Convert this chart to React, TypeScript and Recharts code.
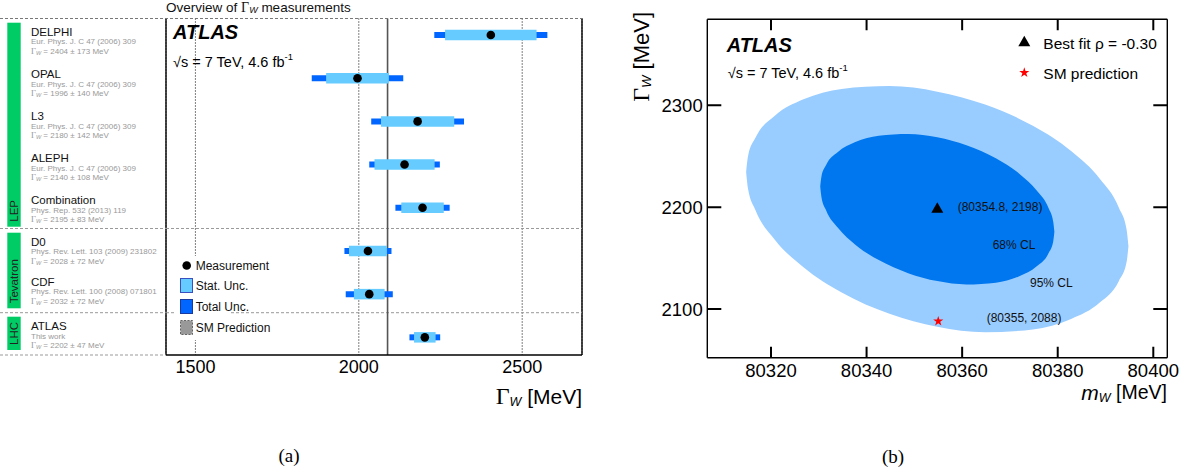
import React from 'react';
import {
  ComposedChart,
  Scatter,
  ErrorBar,
  XAxis,
  YAxis,
  ReferenceLine,
  CartesianGrid,
  Area,
  Symbols,
} from 'recharts';

const SANS = '"Liberation Sans", Arial, Helvetica, sans-serif';
const SERIF = '"Liberation Serif", "Times New Roman", serif';

// ---- (a) overview of Gamma_W measurements ----
const experiments = ['DELPHI', 'OPAL', 'L3', 'ALEPH', 'Combination', 'D0', 'CDF', 'ATLAS'];
const references = [
  'Eur. Phys. J. C 47 (2006) 309',
  'Eur. Phys. J. C 47 (2006) 309',
  'Eur. Phys. J. C 47 (2006) 309',
  'Eur. Phys. J. C 47 (2006) 309',
  'Phys. Rep. 532 (2013) 119',
  'Phys. Rev. Lett. 103 (2009) 231802',
  'Phys. Rev. Lett. 100 (2008) 071801',
  'This work',
];
const widthValues = [2404, 1996, 2180, 2140, 2195, 2028, 2032, 2202];
const totalErrors = [173, 140, 142, 108, 83, 72, 72, 47];
const statErrors = [140, 96, 112, 92, 65, 58, 47, 33];
const smWidth = 2088;
const widthTicks = [1500, 2000, 2500];
const groupNames = ['LEP', 'Tevatron', 'LHC'];

// ---- (b) m_W vs Gamma_W ----
const bestFit = { m: 80354.8, g: 2198 };
const smPrediction = { m: 80355, g: 2088 };
const massTicks = [80320, 80340, 80360, 80380, 80400];
const gammaTicks = [2100, 2200, 2300];

// contour edges: mass, lower edge, upper edge
const c95Mass = [80314.8, 80315.2, 80316.8, 80320.8, 80326.8, 80334.8, 80344.8, 80354.8, 80364.8, 80374.8, 80382.8, 80388.8, 80392.8, 80394.4, 80394.8];
const c95Low = [2234.3, 2217.7, 2196.5, 2168.1, 2141.0, 2116.2, 2095.3, 2082.6, 2077.2, 2079.9, 2090.2, 2106.3, 2127.5, 2145.8, 2161.7];
const c95High = [2234.3, 2250.2, 2268.5, 2289.7, 2305.8, 2316.1, 2318.8, 2313.4, 2300.7, 2279.8, 2255.0, 2227.9, 2199.5, 2178.3, 2161.7];

const c68Mass = [80330.3, 80330.55, 80331.5, 80334.0, 80337.65, 80342.55, 80348.7, 80354.8, 80360.9, 80367.05, 80371.95, 80375.6, 80378.1, 80379.05, 80379.3];
const c68Low = [2220.2, 2210.0, 2197.1, 2179.7, 2163.1, 2148.0, 2135.2, 2127.4, 2124.1, 2125.8, 2132.1, 2141.9, 2154.9, 2166.1, 2175.8];
const c68High = [2220.2, 2229.9, 2241.1, 2254.1, 2263.9, 2270.2, 2271.9, 2268.6, 2260.8, 2248.0, 2232.9, 2216.3, 2198.9, 2186.0, 2175.8];

const ROW_DOMAIN = [-0.382, 7.409];
const WIDTH_DOMAIN = [1410, 2683];
const MASS_DOMAIN = [80306.67, 80402.93];
const GAMMA_DOMAIN = [2052.2, 2384.4];

function OverviewChart() {
  const rows = experiments.map((name, i) => ({
    name,
    row: i,
    value: widthValues[i],
    total: totalErrors[i],
    stat: statErrors[i],
  }));

  return (
    <ComposedChart width={600} height={420} margin={{ top: 18.5, right: 18, bottom: 35, left: 165 }}>
      <CartesianGrid horizontal={false} stroke="#000" strokeDasharray="1 2" />
      <XAxis
        type="number"
        dataKey="value"
        domain={WIDTH_DOMAIN}
        allowDataOverflow
        ticks={widthTicks}
        interval={0}
        height={30}
        tickLine={false}
        tickSize={0}
        tickMargin={5.5}
        axisLine={{ stroke: '#000', strokeWidth: 1.6 }}
        tick={{ fontSize: 18, fill: '#000' }}
      />
      <YAxis
        type="number"
        dataKey="row"
        domain={ROW_DOMAIN}
        allowDataOverflow
        reversed
        width={1}
        tick={false}
        tickLine={false}
        axisLine={false}
      />
      <ReferenceLine x={WIDTH_DOMAIN[0]} stroke="#000" strokeWidth={1.4} ifOverflow="visible" />
      <ReferenceLine x={WIDTH_DOMAIN[1]} stroke="#000" strokeWidth={1.4} ifOverflow="visible" />
      <ReferenceLine y={4.48} stroke="#999" strokeDasharray="3 2" />
      <ReferenceLine y={6.43} stroke="#999" strokeDasharray="3 2" />
      <ReferenceLine x={smWidth} stroke="#555" strokeWidth={1.6} />
      <Scatter
        data={rows}
        isAnimationActive={false}
        shape={(p: any) => <circle cx={p.cx} cy={p.cy} r={4.3} fill="#000" />}
      >
        <ErrorBar dataKey="total" direction="x" width={0} stroke="#0066ff" strokeWidth={6} isAnimationActive={false} />
        <ErrorBar dataKey="stat" direction="x" width={0} stroke="#66ccff" strokeWidth={10.5} isAnimationActive={false} />
      </Scatter>
    </ComposedChart>
  );
}

// inward tick stubs (ROOT style), placed on the frame through the chart scales
const stub = (dx: number, dy: number) => (p: any) => (
  <line x1={p.cx} y1={p.cy} x2={p.cx + dx} y2={p.cy + dy} stroke="#000" strokeWidth={2} />
);

function ContourChart() {
  const outer = c95Mass.map((m, i) => ({ m, range: [c95Low[i], c95High[i]] }));
  const inner = c68Mass.map((m, i) => ({ m, range: [c68Low[i], c68High[i]] }));
  const bottomTicks = massTicks.map(m => ({ m, g: GAMMA_DOMAIN[0] }));
  const topTicks = massTicks.map(m => ({ m, g: GAMMA_DOMAIN[1] }));
  const leftTicks = gammaTicks.map(g => ({ m: MASS_DOMAIN[0], g }));
  const rightTicks = gammaTicks.map(g => ({ m: MASS_DOMAIN[1], g }));
  const line = { stroke: '#000', strokeWidth: 1.4 };

  return (
    <ComposedChart width={555} height={420} margin={{ top: 18.3, right: 26.7, bottom: 32.3, left: 17.3 }}>
      <XAxis
        type="number"
        dataKey="m"
        domain={MASS_DOMAIN}
        allowDataOverflow
        ticks={massTicks}
        interval={0}
        height={30}
        tickLine={false}
        tickSize={0}
        tickMargin={5.8}
        axisLine={line}
        tick={{ fontSize: 18.5, fill: '#000' }}
      />
      <XAxis
        xAxisId="top"
        orientation="top"
        type="number"
        domain={MASS_DOMAIN}
        allowDataOverflow
        height={1}
        tick={false}
        tickLine={false}
        axisLine={line}
      />
      <YAxis
        type="number"
        dataKey="g"
        domain={GAMMA_DOMAIN}
        allowDataOverflow
        ticks={gammaTicks}
        interval={0}
        width={50}
        tickLine={false}
        tickSize={0}
        tickMargin={4.6}
        axisLine={line}
        tick={{ fontSize: 18.5, fill: '#000' }}
      />
      <YAxis
        yAxisId="right"
        orientation="right"
        type="number"
        domain={GAMMA_DOMAIN}
        allowDataOverflow
        width={1}
        tick={false}
        tickLine={false}
        axisLine={line}
      />
      <Area data={outer} dataKey="range" type="monotone" stroke="none" fill="#99ccff" fillOpacity={1} isAnimationActive={false} />
      <Area data={inner} dataKey="range" type="monotone" stroke="none" fill="#0077ee" fillOpacity={1} isAnimationActive={false} />
      <Scatter data={bottomTicks} isAnimationActive={false} shape={stub(0, -11)} />
      <Scatter data={topTicks} isAnimationActive={false} shape={stub(0, 11)} />
      <Scatter data={leftTicks} isAnimationActive={false} shape={stub(14, 0)} />
      <Scatter data={rightTicks} isAnimationActive={false} shape={stub(-14, 0)} />
      <Scatter
        data={[bestFit]}
        isAnimationActive={false}
        shape={(p: any) => <Symbols cx={p.cx} cy={p.cy} type="triangle" size={62} fill="#000" />}
      />
      <Scatter
        data={[smPrediction]}
        isAnimationActive={false}
        shape={(p: any) => <Symbols cx={p.cx} cy={p.cy} type="star" size={32} fill="#ff0000" />}
      />
    </ComposedChart>
  );
}

function GammaW({ size, sub, shift }: { size: number; sub: number; shift: number }) {
  return (
    <>
      <tspan fontFamily={SERIF} fontSize={size}>Γ</tspan>
      <tspan fontSize={sub} fontStyle="italic" dy={shift}>W</tspan>
    </>
  );
}

function Overlay() {
  const nameY = [31.7, 74, 116, 158.3, 200, 241.7, 281.7, 326];
  const groupTop = [22.7, 232.7, 316.7];
  const groupBottom = [226.7, 308.3, 350];
  const sepY = [228.5, 312.7, 355];

  return (
    <svg
      width={1195}
      height={476}
      style={{ position: 'absolute', left: 0, top: 0, pointerEvents: 'none' }}
      fontFamily={SANS}
    >
      {/* (a) label column */}
      <line x1={0} x2={582} y1={18.5} y2={18.5} stroke="#777" strokeDasharray="3 2" />
      {sepY.map(y => (
        <line key={y} x1={0} x2={166} y1={y} y2={y} stroke="#999" strokeDasharray="3 2" />
      ))}
      {groupNames.map((g, i) => (
        <g key={g}>
          <rect x={7.3} y={groupTop[i]} width={13.4} height={groupBottom[i] - groupTop[i]} fill="#00cc66" />
          <text
            transform={`translate(14.3 ${groupBottom[i] - 5}) rotate(-90)`}
            fontSize={11.5}
            fill="#222"
            dominantBaseline="central"
          >
            {g}
          </text>
        </g>
      ))}
      {experiments.map((name, i) => (
        <g key={name}>
          <text x={31} y={nameY[i]} fontSize={11.5} fill="#111" dominantBaseline="central">{name}</text>
          <text x={31} y={nameY[i] + 10} fontSize={8} fill="#999" dominantBaseline="central">{references[i]}</text>
          <text x={31} y={nameY[i] + 19} fontSize={8} fill="#999" dominantBaseline="central">
            <GammaW size={8.5} sub={5.5} shift={2} />
            <tspan dy={-2}>{` = ${widthValues[i]} ± ${totalErrors[i]} MeV`}</tspan>
          </text>
        </g>
      ))}

      <text x={166} y={7.3} fontSize={13.5} fill="#111" dominantBaseline="central">
        Overview of <GammaW size={14} sub={9} shift={3} />
        <tspan dy={-3}> measurements</tspan>
      </text>

      {/* (a) in-plot text */}
      <text x={173} y={32.3} fontSize={20} fontWeight="bold" fontStyle="italic" dominantBaseline="central">ATLAS</text>
      <text x={173} y={62} fontSize={14.5} dominantBaseline="central">
        √s = 7 TeV, 4.6 fb<tspan fontSize={9.5} dy={-6}>-1</tspan>
      </text>

      {/* (a) legend */}
      <rect x={176} y={256} width={54} height={84} fill="#fff" />
      <circle cx={186.7} cy={265.5} r={4.3} fill="#000" />
      <text x={195.7} y={265.5} fontSize={12} fill="#111" dominantBaseline="central">Measurement</text>
      <rect x={180.5} y={278.5} width={12} height={14} fill="#66ccff" stroke="#3a4fc0" strokeWidth={1} />
      <text x={195.7} y={286} fontSize={12} fill="#111" dominantBaseline="central">Stat. Unc.</text>
      <rect x={180.5} y={299.5} width={12} height={14} fill="#0066ff" stroke="#1a3aa0" strokeWidth={1} />
      <text x={195.7} y={306.7} fontSize={12} fill="#111" dominantBaseline="central">Total Unc.</text>
      <rect x={180.5} y={320.5} width={12} height={14} fill="#999" stroke="#666" strokeWidth={1} strokeDasharray="2 1.5" />
      <text x={195.7} y={327.7} fontSize={12} fill="#111" dominantBaseline="central">SM Prediction</text>

      {/* (a) axis title */}
      <text x={582} y={395.7} fontSize={21} textAnchor="end" dominantBaseline="central">
        <GammaW size={24} sub={12.5} shift={6} />
        <tspan dy={-6}> [MeV]</tspan>
      </text>

      {/* (b) in-plot text */}
      <text x={726.7} y={45} fontSize={20} fontWeight="bold" fontStyle="italic" dominantBaseline="central">ATLAS</text>
      <text x={727.7} y={72.7} fontSize={14.5} dominantBaseline="central">
        √s = 7 TeV, 4.6 fb<tspan fontSize={9.5} dy={-6}>-1</tspan>
      </text>
      <Symbols cx={1024.3} cy={42.7} type="triangle" size={62} fill="#000" />
      <text x={1043.3} y={43.3} fontSize={15.5} dominantBaseline="central">Best fit ρ = -0.30</text>
      <Symbols cx={1024.3} cy={72.7} type="star" size={32} fill="#ff0000" />
      <text x={1043.3} y={73} fontSize={15.5} dominantBaseline="central">SM prediction</text>

      <text x={957.7} y={207.3} fontSize={12} fill="#111" dominantBaseline="central">(80354.8, 2198)</text>
      <text x={992.7} y={245} fontSize={12} fill="#111" dominantBaseline="central">68% CL</text>
      <text x={1030} y={282.7} fontSize={12} fill="#111" dominantBaseline="central">95% CL</text>
      <text x={986.7} y={318.3} fontSize={12} fill="#111" dominantBaseline="central">(80355, 2088)</text>

      {/* (b) axis titles */}
      <text x={1167} y={391.7} fontSize={19.5} textAnchor="end" dominantBaseline="central">
        <tspan fontStyle="italic" fontSize={21}>m</tspan>
        <tspan fontStyle="italic" fontSize={12.5} dy={6}>W</tspan>
        <tspan dy={-6}> [MeV]</tspan>
      </text>
      <text transform="translate(641 101.7) rotate(-90)" fontSize={22} dominantBaseline="central">
        <GammaW size={24} sub={13} shift={5} />
        <tspan dy={-5}> [MeV]</tspan>
      </text>

      {/* captions */}
      <text x={289} y={455} fontFamily={SERIF} fontSize={19} textAnchor="middle" dominantBaseline="central">(a)</text>
      <text x={893} y={456.5} fontFamily={SERIF} fontSize={19} textAnchor="middle" dominantBaseline="central">(b)</text>
    </svg>
  );
}

export default function App() {
  return (
    <div
      style={{
        position: 'absolute',
        left: 0,
        top: 0,
        width: 1195,
        height: 476,
        background: '#fff',
        fontFamily: SANS,
        overflow: 'hidden',
      }}
    >
      <div style={{ position: 'absolute', left: 0, top: 0 }}>
        <OverviewChart />
      </div>
      <div style={{ position: 'absolute', left: 640, top: 0 }}>
        <ContourChart />
      </div>
      <Overlay />
    </div>
  );
}
